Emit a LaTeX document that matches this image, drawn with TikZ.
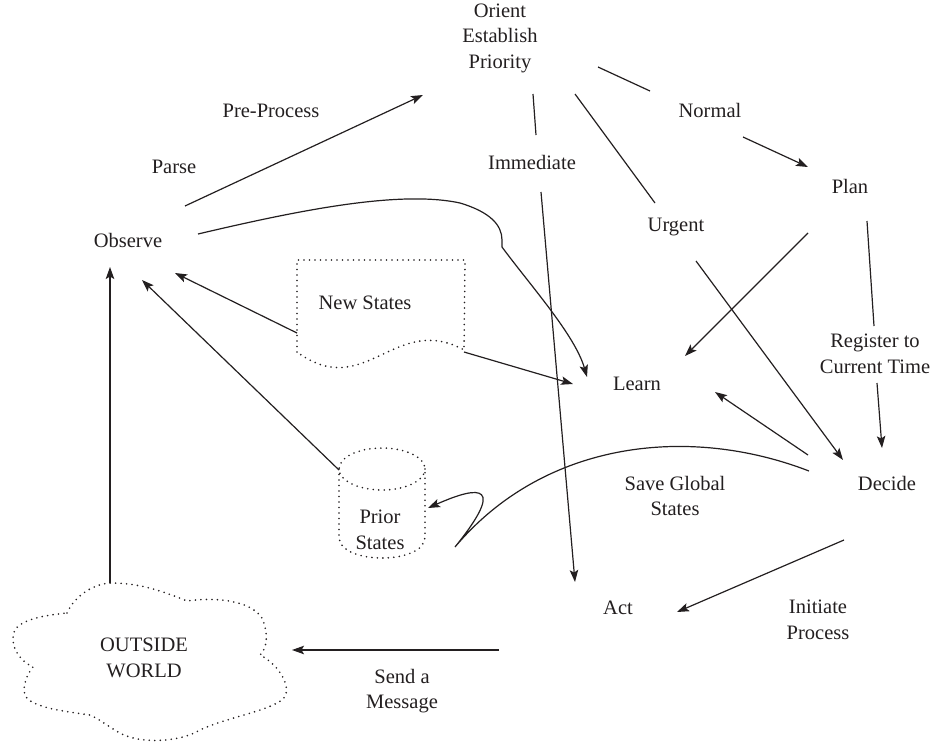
\documentclass[tikz,border=0pt]{standalone}
\usepackage{fontspec}
\setmainfont{Liberation Serif}
\usetikzlibrary{arrows.meta}
\definecolor{ink}{HTML}{231F20}
\begin{document}
\begin{tikzpicture}[x=1pt,y=-1pt,
  lbl/.style={font=\fontsize{20.5}{25.5}\selectfont, align=center, inner sep=0pt, text=ink},
  conn/.style={line width=1.2pt, draw=ink},
  arr/.style={conn, -{Stealth[length=12pt,width=8.5pt,inset=2.5pt]}},
  dots/.style={draw=ink, line width=1.8pt, dash pattern=on 0pt off 5.5pt, line cap=round},
]
\useasboundingbox (0,0) rectangle (935,744);

% ---------- labels ----------
\node[lbl] (orient)    at (500,38)  {Orient\\Establish\\Priority};
\node[lbl] (preproc)   at (271,111) {Pre-Process};
\node[lbl] (parse)     at (174,167) {Parse};
\node[lbl] (observe)   at (128,240) {Observe};
\node[lbl] (immediate) at (532,162) {Immediate};
\node[lbl] (normal)    at (710,110) {Normal};
\node[lbl] (plan)      at (850,186) {Plan};
\node[lbl] (urgent)    at (676,227) {Urgent};
\node[lbl] (newst)     at (365,303) {New States};
\node[lbl] (learn)     at (637,384) {Learn};
\node[lbl] (register)  at (875,354) {Register to\\Current Time};
\node[lbl] (decide)    at (887,483) {Decide};
\node[lbl] (saveg)     at (675,496) {Save Global\\States};
\node[lbl] (prior)     at (380,530) {Prior\\States};
\node[lbl] (act)       at (618,608) {Act};
\node[lbl] (initiate)  at (818,620) {Initiate\\Process};
\node[lbl] (send)      at (402,691) {Send a\\Message};
\node[lbl] (world)     at (144,658) {OUTSIDE\\WORLD};

% ---------- store shapes ----------
% new-states document
\draw[dots] (297,352) -- (297,260) -- (465,260) -- (464,350)
  .. controls (395,312) and (365,402) .. (297,352);
% prior-states cylinder
\draw[dots] (382,469) ellipse [x radius=43, y radius=21];
\draw[dots] (339,469) -- (339,537) .. controls (339,565) and (425,565) .. (425,537) -- (425,469);
% outside-world cloud
\draw[dots] (67,613) .. controls (75,595) and (95,583) .. (112,583)
  .. controls (140,583) and (165,592) .. (187,601)
  .. controls (215,597) and (250,600) .. (262,618)
  .. controls (268,632) and (268,648) .. (260,655)
  .. controls (280,665) and (294,690) .. (282,700)
  .. controls (265,712) and (225,718) .. (200,730)
  .. controls (180,742) and (140,745) .. (118,732)
  .. controls (105,724) and (97,718) .. (90,715)
  .. controls (70,712) and (30,708) .. (25,695)
  .. controls (22,685) and (28,673) .. (33,667)
  .. controls (18,660) and (10,645) .. (14,632)
  .. controls (18,620) and (45,615) .. (67,613) -- cycle;

% ---------- connector end points ----------
\coordinate (obs-ne)    at (185,206);
\coordinate (orient-sw) at (423,95);
\coordinate (obs-e)     at (198,234);
\coordinate (learn-nw)  at (587,377);
\coordinate (learn-w)   at (573,384);
\coordinate (obs-se)    at (175,273);
\coordinate (newst-w)   at (297,333);
\coordinate (newst-se)  at (464,352);
\coordinate (obs-s)     at (142,280);
\coordinate (prior-nw)  at (339,470);
\coordinate (obs-sw)    at (110,267);
\coordinate (world-n)   at (110,583);
\coordinate (orient-s)  at (533,94);
\coordinate (imm-n)     at (536,135);
\coordinate (imm-s)     at (541,192);
\coordinate (act-n)     at (575,582);
\coordinate (orient-se) at (575,94);
\coordinate (urgent-n)  at (655,203);
\coordinate (orient-e)  at (598,67);
\coordinate (normal-w)  at (650,91);
\coordinate (normal-se) at (743,137);
\coordinate (plan-w)    at (808,167);
\coordinate (plan-sw)   at (808,233);
\coordinate (learn-ne)  at (685,356);
\coordinate (plan-s)    at (867,221);
\coordinate (reg-n)     at (874,326);
\coordinate (reg-s)     at (877,383);
\coordinate (decide-n)  at (882,448);
\coordinate (urgent-s)  at (696,261);
\coordinate (decide-nw) at (843,460);
\coordinate (decide-w1) at (808,455);
\coordinate (learn-e)   at (715,392);
\coordinate (decide-w2) at (809,471);
\coordinate (prior-e)   at (428,508);
\coordinate (decide-sw) at (844,540);
\coordinate (act-e)     at (677,612);
\coordinate (act-w)     at (499,650);
\coordinate (world-e)   at (292,650);

% ---------- connectors ----------
\draw[arr] (obs-ne) -- (orient-sw);
\draw[arr] (obs-e) .. controls (300,210) and (400,190) .. (460,203)
  .. controls (490,212) and (502,225) .. (502,240) -- (502,247)
  .. controls (530,285) and (575,335) .. (learn-nw);
\draw[arr] (newst-w) -- (obs-se);
\draw[arr] (newst-se) -- (learn-w);
\draw[arr] (prior-nw) -- (obs-s);
\draw[arr] (world-n) -- (obs-sw);
\draw[conn] (orient-s) -- (imm-n);
\draw[arr] (imm-s) -- (act-n);
\draw[conn] (orient-se) -- (urgent-n);
\draw[conn] (orient-e) -- (normal-w);
\draw[arr] (normal-se) -- (plan-w);
\draw[arr] (plan-sw) -- (learn-ne);
\draw[conn] (plan-s) -- (reg-n);
\draw[arr] (reg-s) -- (decide-n);
\draw[arr] (urgent-s) -- (decide-nw);
\draw[arr] (decide-w1) -- (learn-e);
\draw[arr] (decide-w2) .. controls (690,425) and (545,440) .. (455,547)
  .. controls (505,485) and (482,484) .. (prior-e);
\draw[arr] (decide-sw) -- (act-e);
\draw[arr] (act-w) -- (world-e);
\end{tikzpicture}
\end{document}
